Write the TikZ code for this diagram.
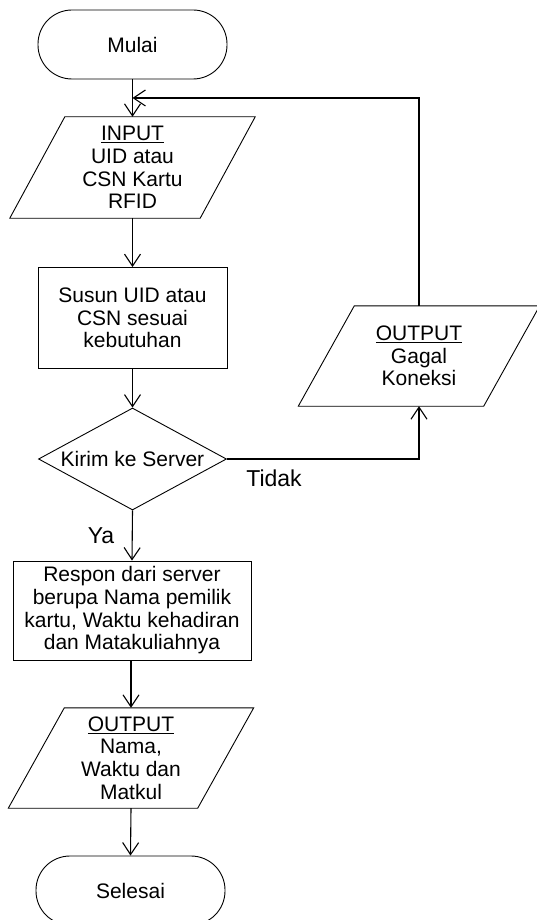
\documentclass[tikz,border=0pt]{standalone}
\usepackage{fontspec}
\setmainfont{Liberation Sans}
\usetikzlibrary{shapes.geometric,arrows.meta,calc}
\tikzset{
  base/.style={font=\fontsize{21}{22.7}\selectfont, align=center, inner sep=0pt},
  term/.style={base, draw, rounded corners=34pt, minimum width=189pt, minimum height=69pt, line width=0.9pt},
  proc/.style={base, draw, minimum height=101pt, line width=0.9pt},
  iotext/.style={base, minimum height=101pt},
  lbl/.style={font=\fontsize{23}{25}\selectfont, inner sep=0pt},
  arr/.style={line width=1.1pt, -{Straight Barb[length=12pt,width=16pt]}},
  outline/.style={line width=0.9pt}
}
\newcommand\ioshape[2]{\draw[outline] ($(#1.south west)+(-#2,0)$) -- ($(#1.south east)+(-#2,0)$) -- ($(#1.north east)+(#2,0)$) -- ($(#1.north west)+(#2,0)$) -- cycle;}
\begin{document}
\begin{tikzpicture}[x=1pt,y=-1pt]
\useasboundingbox (0,0) rectangle (537,920);
\node[term] (mulai) at (132.5,44.5) {Mulai};
\node[iotext, minimum width=190pt] (input) at (132.5,167.5) {\underline{INPUT}\\UID atau\\CSN Kartu\\RFID};
\ioshape{input}{27.5}
\node[proc, minimum width=189pt] (susun) at (132.5,318) {Susun UID atau\\CSN sesuai\\kebutuhan};
\node[diamond, draw, line width=0.9pt, minimum width=188pt, minimum height=102pt, inner sep=0pt] (kirim) at (132.5,459) {};
\node[base] (kirimtxt) at (kirim.center) {Kirim ke Server};
\node[iotext, minimum width=185pt, minimum height=100pt] (gagal) at (419,356) {\underline{OUTPUT}\\Gagal\\Koneksi};
\ioshape{gagal}{28}
\node[proc, minimum width=238pt, minimum height=99pt] (respon) at (132,610.5) {Respon dari server\\berupa Nama pemilik\\kartu, Waktu kehadiran\\dan Matakuliahnya};
\node[iotext, minimum width=189pt, minimum height=100pt] (output) at (131,758) {\underline{OUTPUT}\\Nama,\\Waktu dan\\Matkul};
\ioshape{output}{28}
\node[term] (selesai) at (130.5,890.5) {Selesai};
\node[lbl] (tidak) at (274,478) {Tidak};
\node[lbl] (ya) at (101,536) {Ya};
\coordinate (loopR) at (419,98);
\coordinate (loopL) at (132.5,98);
\draw[arr] (mulai.south) -- (input.north);
\draw[arr] (gagal.north) -- (loopR) -- (loopL);
\draw[arr] (input.south) -- (susun.north);
\draw[arr] (susun.south) -- (kirim.north);
\draw[arr] (kirim.east) -| (gagal.south);
\draw[arr] (kirim.south) -- (respon.north);
\draw[arr] (respon.south -| output.north) -- (output.north);
\draw[arr] (output.south) -- (selesai.north);
\end{tikzpicture}
\end{document}
